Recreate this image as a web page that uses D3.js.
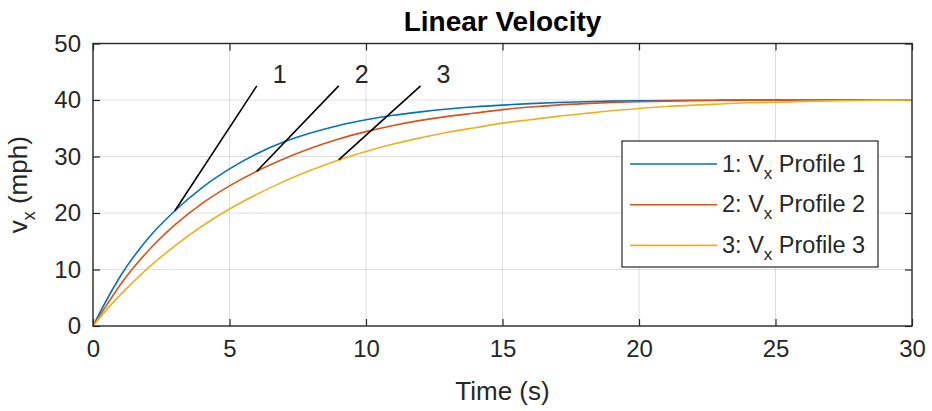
<!DOCTYPE html>
<html>
<head>
<meta charset="utf-8">
<script src="https://cdn.jsdelivr.net/npm/d3@7"></script>
<style>
  html, body { margin: 0; padding: 0; background: #fff; }
  svg { display: block; }
</style>
</head>
<body>
<div id="chart"></div>
<script>
// values (mph vs s)
const TIME_S = [0, 0.5, 1, 2, 3, 4, 5, 6, 7, 8, 9, 10, 11, 12, 13, 14, 15, 16, 17, 18, 19, 20, 21, 22, 23, 24, 25, 26, 27, 28, 29, 30]
const PROFILE_1 = [0, 4.6, 8.8, 15.4, 20.4, 24.5, 27.8, 30.5, 32.6, 34.2, 35.5, 36.5, 37.3, 37.9, 38.4, 38.8, 39.1, 39.35, 39.55, 39.7, 39.8, 39.87, 39.92, 39.95, 39.97, 39.98, 39.99, 40, 40, 40, 40, 40]
const PROFILE_2 = [0, 3.7, 7.3, 13.2, 17.9, 21.7, 24.8, 27.4, 29.6, 31.5, 33.1, 34.4, 35.5, 36.4, 37.1, 37.7, 38.3, 38.75, 39.1, 39.35, 39.55, 39.7, 39.8, 39.87, 39.92, 39.95, 39.97, 39.99, 40, 40, 40, 40]
const PROFILE_3 = [0, 2.9, 5.5, 10.2, 14.2, 17.7, 20.7, 23.3, 25.6, 27.6, 29.4, 30.9, 32.2, 33.3, 34.3, 35.1, 35.9, 36.5, 37.1, 37.6, 38.1, 38.5, 38.85, 39.1, 39.3, 39.5, 39.6, 39.75, 39.85, 39.92, 39.97, 40]
const SERIES_LABELS = ['1', '2', '3']
const ANNOTATION_T = [3, 6, 9]   // where the numbered pointer lines touch each curve
const X_TICKS = [0, 5, 10, 15, 20, 25, 30]
const Y_TICKS = [0, 10, 20, 30, 40, 50]

const COLORS = ['#0072BD', '#D95319', '#EDB120']
const AXIS_COLOR = '#262626'
const FONT = '"Liberation Sans", Arial, Helvetica, sans-serif'

const width = 932
const height = 411
const margin = { top: 43.5, right: 20, bottom: 85, left: 93 }

const series = [PROFILE_1, PROFILE_2, PROFILE_3].map((vals, i) => ({
  label: SERIES_LABELS[i],
  color: COLORS[i],
  points: TIME_S.map((t, j) => ({ t, v: vals[j] })),
}))

const x = d3.scaleLinear().domain([0, 30]).range([margin.left, width - margin.right])
const y = d3.scaleLinear().domain([0, 50]).range([height - margin.bottom, margin.top])

const svg = d3.select('#chart').append('svg')
  .attr('width', width)
  .attr('height', height)
  .attr('font-family', FONT)

// Grid
const grid = svg.append('g').attr('stroke', AXIS_COLOR).attr('stroke-opacity', 0.15).attr('stroke-width', 1)
grid.selectAll('.gx').data(X_TICKS.slice(1, -1)).join('line')
  .attr('x1', d => x(d)).attr('x2', d => x(d))
  .attr('y1', y(0)).attr('y2', y(50))
grid.selectAll('.gy').data(Y_TICKS.slice(1, -1)).join('line')
  .attr('x1', x(0)).attr('x2', x(30))
  .attr('y1', d => y(d)).attr('y2', d => y(d))

function styleAxis(g) {
  g.select('.domain').remove()
  g.selectAll('.tick line').attr('stroke', AXIS_COLOR).attr('stroke-width', 1.2)
  g.selectAll('.tick text')
    .attr('fill', AXIS_COLOR).attr('font-size', '24px')
    .attr('font-family', FONT)
}

// Axes with inward ticks, on all four sides (box on)
svg.append('g')
  .attr('transform', `translate(0,${y(0)})`)
  .call(d3.axisBottom(x).tickValues(X_TICKS).tickSize(-7).tickPadding(14))
  .call(styleAxis)
svg.append('g')
  .attr('transform', `translate(0,${y(50)})`)
  .call(d3.axisTop(x).tickValues(X_TICKS).tickSize(-7).tickFormat(''))
  .call(styleAxis)
svg.append('g')
  .attr('transform', `translate(${x(0)},0)`)
  .call(d3.axisLeft(y).tickValues(Y_TICKS).tickSize(-7).tickPadding(12))
  .call(styleAxis)
svg.append('g')
  .attr('transform', `translate(${x(30)},0)`)
  .call(d3.axisRight(y).tickValues(Y_TICKS).tickSize(-7).tickFormat(''))
  .call(styleAxis)

// Lines
const line = d3.line().x(d => x(d.t)).y(d => y(d.v)).curve(d3.curveMonotoneX)
svg.append('g').selectAll('path').data(series).join('path')
  .attr('fill', 'none')
  .attr('stroke', d => d.color)
  .attr('stroke-width', 1.6)
  .attr('d', d => line(d.points))

// Numbered pointer lines
series.forEach((s, i) => {
  const t0 = ANNOTATION_T[i]
  const v0 = s.points.find(p => p.t === t0).v
  svg.append('line')
    .attr('x1', x(t0)).attr('y1', y(v0))
    .attr('x2', x(t0 + 3)).attr('y2', y(42.5))
    .attr('stroke', '#000').attr('stroke-width', 1.6)
  svg.append('text')
    .attr('x', x(t0 + 3) + 16).attr('y', y(42.5) - 3)
    .attr('font-size', '25px').attr('fill', '#262626')
    .text(s.label)
})

// Box
svg.append('rect')
  .attr('x', x(0)).attr('y', y(50))
  .attr('width', x(30) - x(0)).attr('height', y(0) - y(50))
  .attr('fill', 'none').attr('stroke', AXIS_COLOR).attr('stroke-width', 1.4)

// Title and labels
svg.append('text')
  .attr('x', (x(0) + x(30)) / 2).attr('y', 31)
  .attr('text-anchor', 'middle').attr('font-weight', 'bold')
  .attr('font-size', '28px').attr('fill', '#000')
  .text('Linear Velocity')

svg.append('text')
  .attr('x', (x(0) + x(30)) / 2).attr('y', 400)
  .attr('text-anchor', 'middle')
  .attr('font-size', '26px').attr('fill', AXIS_COLOR)
  .text('Time (s)')

const yLab = svg.append('text')
  .attr('transform', `translate(27,${(y(0) + y(50)) / 2}) rotate(-90)`)
  .attr('text-anchor', 'middle')
  .attr('font-size', '26px').attr('fill', AXIS_COLOR)
yLab.append('tspan').text('v')
yLab.append('tspan').attr('font-size', '18px').attr('dy', 8).text('x')
yLab.append('tspan').attr('dy', -8).text(' (mph)')

// Legend
const legend = svg.append('g').attr('transform', 'translate(622,141)')
legend.append('rect')
  .attr('width', 256).attr('height', 126)
  .attr('fill', '#fff').attr('stroke', AXIS_COLOR).attr('stroke-width', 1.2)
series.forEach((s, i) => {
  const ly = 23 + i * 40.7
  legend.append('line')
    .attr('x1', 8).attr('x2', 95)
    .attr('y1', ly).attr('y2', ly)
    .attr('stroke', s.color).attr('stroke-width', 1.6)
  const t = legend.append('text')
    .attr('x', 100).attr('y', ly + 7.5)
    .attr('font-size', '23.5px').attr('fill', AXIS_COLOR)
  t.append('tspan').text(`${s.label}: V`)
  t.append('tspan').attr('font-size', '17px').attr('dy', 7).text('x')
  t.append('tspan').attr('dy', -7).text(` Profile ${s.label}`)
})
</script>
</body>
</html>
